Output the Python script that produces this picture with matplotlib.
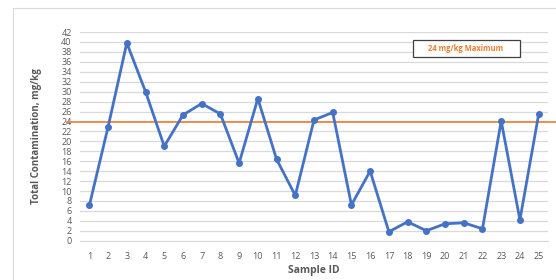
import matplotlib.pyplot as plt
from matplotlib.patches import Rectangle

# data
sample_ids = list(range(1, 26))
contamination = [7.1, 22.9, 39.8, 30.0, 19.0, 25.3, 27.6, 25.5, 15.6, 28.6,
                 16.4, 9.1, 24.3, 25.8, 7.2, 14.0, 1.8, 3.8, 2.0, 3.4,
                 3.6, 2.4, 24.1, 4.2, 25.4]
limit_value = 23.8
y_ticks = list(range(0, 43, 2))

blue = '#4472C4'
orange = '#ED7D31'
grey_text = '#595959'

plt.rcParams['font.family'] = ['Open Sans', 'DejaVu Sans']

fig = plt.figure(figsize=(5.56, 2.8), dpi=100)

# chart area border
fig.patches.append(Rectangle((13 / 556, -0.1), 1.2, 1.1 - 8 / 280,
                             transform=fig.transFigure, fill=False,
                             edgecolor='#d9d9d9', linewidth=0.8))

ax = fig.add_axes([0.1439, 0.1404, 0.8417, 0.7453])
ax.set_xlim(0.5, 25.5)
ax.set_ylim(0, 42)
ax.set_yticks(y_ticks)
ax.set_xticks(sample_ids)
ax.grid(axis='y', color='#d9d9d9', linewidth=0.9)
ax.set_axisbelow(True)
for s in ['top', 'right', 'left']:
    ax.spines[s].set_visible(False)
ax.spines['bottom'].set_color('#d9d9d9')
ax.tick_params(length=0, labelsize=6.5, colors=grey_text, pad=6)
ax.tick_params(axis='x', pad=8)

ax.plot([-0.19, 25.95], [limit_value, limit_value], color=orange,
        linewidth=1.2, clip_on=False, zorder=1)
ax.plot(sample_ids, contamination, color=blue, linewidth=2.0,
        marker='o', markersize=4, zorder=3)

ax.set_ylabel('Total Contamination, mg/kg', fontsize=7, fontweight='bold',
              color=grey_text, labelpad=14)
ax.set_xlabel('Sample ID', fontsize=7.5, fontweight='bold', color=grey_text,
              labelpad=3)

# text box for the limit line
fig.patches.append(Rectangle((413 / 556, 1 - 57 / 280), 107 / 556, 17 / 280,
                             transform=fig.transFigure, facecolor='white',
                             edgecolor='#404040', linewidth=0.9, zorder=5))
fig.text(466 / 556, 1 - 48 / 280, '24 mg/kg Maximum', color=orange,
         fontsize=5.5, fontweight='bold', ha='center', va='center', zorder=6)

plt.savefig('out.png', dpi=100)
